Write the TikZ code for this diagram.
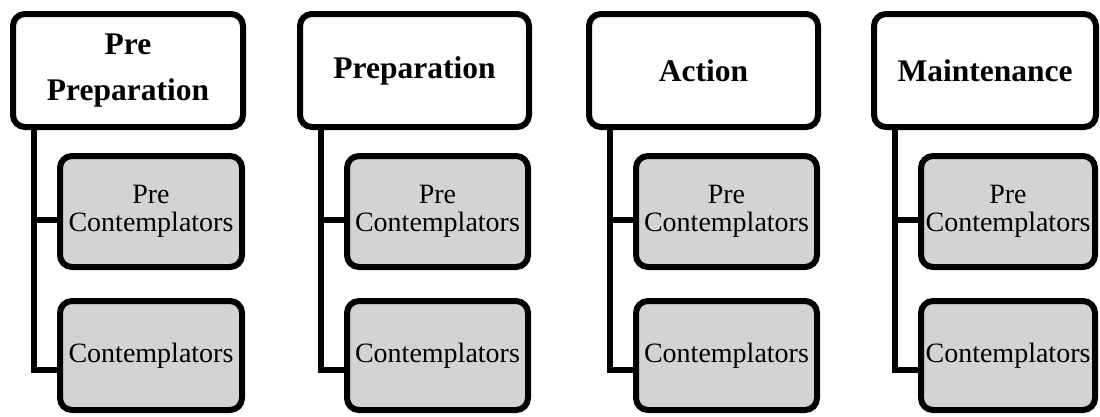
\documentclass[tikz,border=0pt]{standalone}
\usepackage{fontspec}
\setmainfont{Liberation Serif}
\usetikzlibrary{shadows}
\definecolor{boxgray}{RGB}{211,211,211}
\begin{document}
\begin{tikzpicture}[x=1pt,y=-1pt,
  shadowed/.style={drop shadow={shadow xshift=1.5pt,shadow yshift=-2pt,opacity=0.3,fill=black}},
  topbox/.style={draw=black, line width=6pt, rounded corners=12pt, fill=white, align=center,
    font=\bfseries\fontsize{31.5}{46}\selectfont, inner sep=0pt, shadowed},
  subbox/.style={draw=black, line width=6pt, rounded corners=12pt, fill=boxgray, align=center,
    font=\fontsize{28}{28.5}\selectfont, inner sep=0pt, shadowed},
  conn/.style={draw=black, line width=6pt}]
\useasboundingbox[fill=white] (0,0) rectangle (1100,416);
\foreach \i/\L/\W/\txt in {1/10/236/{Pre\\Preparation}, 2/297/235/{Preparation}, 3/586/235/{Action}, 4/871/228/{Maintenance}}{
  \pgfmathsetmacro{\tx}{\L+\W/2}
  \pgfmathsetmacro{\tw}{\W-6}
  \pgfmathsetmacro{\cx}{\L+47+(\W-48)/2}
  \pgfmathsetmacro{\cw}{\W-48-6}
  \node[topbox, minimum width=\tw pt, minimum height=113pt] (t\i) at (\tx,70.5) {\txt};
  \node[subbox, minimum width=\cw pt, minimum height=111pt] (a\i) at (\cx,211.5) {Pre\\Contemplators};
  \node[subbox, minimum width=\cw pt, minimum height=109pt] (b\i) at (\cx,355.5) {Contemplators};
  \draw[conn] ([xshift=24pt]t\i.south west) |- ([yshift=-14.5pt]b\i.west);
  \draw[conn] ([xshift=24pt]t\i.south west) |- ([yshift=-8.5pt]a\i.west);
}
\end{tikzpicture}
\end{document}
